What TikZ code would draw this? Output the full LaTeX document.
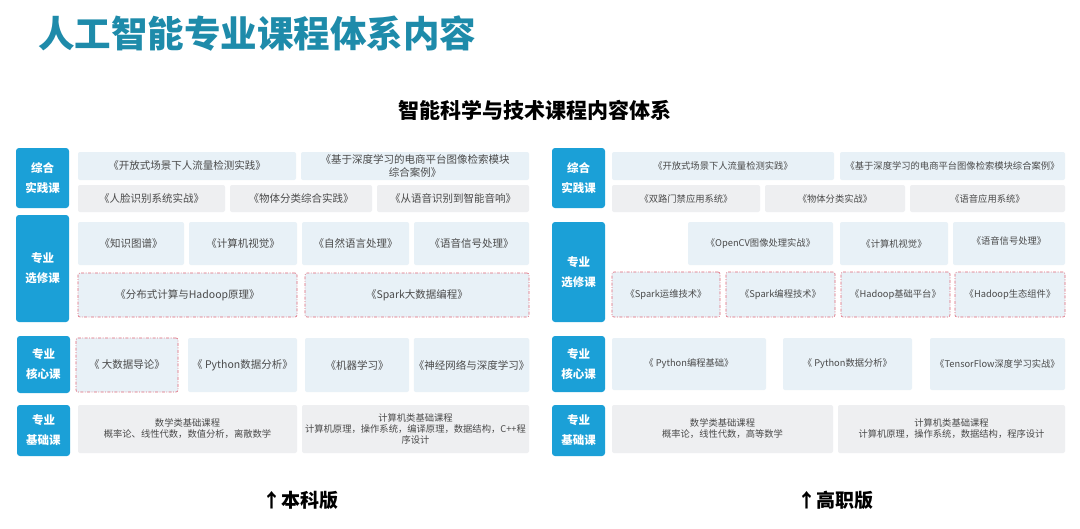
\documentclass[tikz,border=0pt]{standalone}
\usepackage{fontspec}
\setmainfont{Noto Sans CJK SC}
\definecolor{titlec}{HTML}{1E8BAA}
\definecolor{labc}{HTML}{1BA0D7}
\definecolor{lb}{HTML}{E8F1F7}
\definecolor{gr}{HTML}{EEEFF1}
\definecolor{txt}{HTML}{4A4A4A}
\definecolor{dsh}{HTML}{DE6476}
\tikzset{
  base/.style={inner sep=0pt, outer sep=0pt, rounded corners=2pt, align=center, text=txt},
  lab/.style={base, fill=labc, rounded corners=3pt, text=white, font=\bfseries\fontsize{11.5}{20}\selectfont},
  lbox/.style={base, fill=lb, font=\fontsize{10.5}{12.5}\selectfont},
  gbox/.style={base, fill=gr, font=\fontsize{10.5}{12.5}\selectfont},
  dbox/.style={lbox, draw=dsh, line width=0.6pt, dash pattern=on 3pt off 1.5pt on 0.8pt off 1.5pt},
  rsz/.style={font=\fontsize{9.3}{11}\selectfont},
  bsz/.style={font=\fontsize{9.3}{11}\selectfont}
}
\newcommand\mybox[7]{\node[#1, minimum width={(#5-#3)*1pt}, minimum height={(#6-#4)*1pt}] (#2) at ({(#3+#5)/2},{(#4+#6)/2}) {#7};}
\begin{document}
\begin{tikzpicture}[x=1pt,y=-1pt]
\useasboundingbox[fill=white] (0,0) rectangle (1080,528);
% titles
\node[anchor=west, text=titlec, font=\bfseries\fontsize{36.5}{40}\selectfont, inner sep=0pt] (title) at (38,34) {人工智能专业课程体系内容};
\node[font=\bfseries\fontsize{21}{24}\selectfont, inner sep=0pt] (sub) at (535,110) {智能科学与技术课程内容体系};
% ===== left panel =====
\mybox{lab}{L1}{16}{148}{69}{208}{综合\\实践课}
\mybox{lab}{L2}{16}{215}{69}{322}{专业\\选修课}
\mybox{lab}{L3}{17}{336}{70}{393}{专业\\核心课}
\mybox{lab}{L4}{17}{405}{70}{456}{专业\\基础课}
\mybox{lbox}{a1}{78}{152}{296}{180}{《开放式场景下人流量检测实践》}
\mybox{lbox}{a2}{301}{152}{529}{180}{《基于深度学习的电商平台图像检索模块\\综合案例》}
\mybox{gbox}{b1}{78}{185}{225}{212}{《人脸识别系统实战》}
\mybox{gbox}{b2}{230}{185}{372}{212}{《物体分类综合实践》}
\mybox{gbox}{b3}{377}{185}{529}{212}{《从语音识别到智能音响》}
\mybox{lbox}{c1}{78}{222}{184}{265}{《知识图谱》}
\mybox{lbox}{c2}{189}{222}{297}{265}{《计算机视觉》}
\mybox{lbox}{c3}{302}{222}{409}{265}{《自然语言处理》}
\mybox{lbox}{c4}{414}{222}{529}{265}{《语音信号处理》}
\mybox{dbox}{d1}{78}{273}{297}{317}{《分布式计算与Hadoop原理》}
\mybox{dbox}{d2}{305}{273}{529}{317}{《Spark大数据编程》}
\mybox{dbox}{e1}{76}{338}{178}{392}{《 大数据导论》}
\mybox{lbox}{e2}{188}{338}{297}{392}{《 Python数据分析》}
\mybox{lbox}{e3}{305}{338}{409}{392}{《机器学习》}
\mybox{lbox}{e4}{414}{338}{529}{392}{《神经网络与深度学习》}
\mybox{gbox,bsz}{f1}{78}{405}{297}{453}{数学类基础课程\\概率论、线性代数，数值分析，离散数学}
\mybox{gbox,bsz}{f2}{302}{405}{529}{453}{计算机类基础课程\\计算机原理，操作系统，编译原理，数据结构，C++程\\序设计}
% ===== right panel =====
\mybox{lab}{R1}{552}{148}{605}{208}{综合\\实践课}
\mybox{lab}{R2}{552}{222}{605}{322}{专业\\选修课}
\mybox{lab}{R3}{552}{336}{605}{392}{专业\\核心课}
\mybox{lab}{R4}{552}{405}{605}{456}{专业\\基础课}
\mybox{lbox,rsz}{g1}{612}{152}{834}{180}{《开放式场景下人流量检测实践》}
\mybox{lbox,rsz}{g2}{840}{152}{1065}{180}{《基于深度学习的电商平台图像检索模块综合案例》}
\mybox{gbox,rsz}{h1}{612}{185}{760}{212}{《双路门禁应用系统》}
\mybox{gbox,rsz}{h2}{765}{185}{905}{212}{《物体分类实战》}
\mybox{gbox,rsz}{h3}{910}{185}{1065}{212}{《语音应用系统》}
\mybox{lbox,rsz}{i1}{688}{222}{833}{265}{《OpenCV图像处理实战》}
\mybox{lbox,rsz}{i2}{840}{222}{948}{265}{《计算机视觉》}
\mybox{lbox,rsz}{i3}{953}{222}{1065}{265}{\raisebox{6pt}{《语音信号处理》}}
\mybox{dbox,rsz}{j1}{612}{272}{720}{317}{《Spark运维技术》}
\mybox{dbox,rsz}{j2}{726}{272}{835}{317}{《Spark编程技术》}
\mybox{dbox,rsz}{j3}{841}{272}{950}{317}{《Hadoop基础平台》}
\mybox{dbox,rsz}{j4}{955}{272}{1065}{317}{《Hadoop生态组件》}
\mybox{lbox,rsz}{k1}{612}{338}{766}{390}{《 Python编程基础》}
\mybox{lbox,rsz}{k2}{783}{338}{912}{390}{《 Python数据分析》}
\mybox{lbox,rsz}{k3}{930}{338}{1065}{390}{《TensorFlow深度学习实战》}
\mybox{gbox,rsz}{l1}{612}{405}{833}{453}{数学类基础课程\\概率论，线性代数，高等数学}
\mybox{gbox,rsz}{l2}{838}{405}{1065}{453}{计算机类基础课程\\计算机原理，操作系统，数据结构，程序设计}
% bottom captions
\node[anchor=west, font=\bfseries\fontsize{19}{22}\selectfont, inner sep=0pt] (bk) at (262,500) {↑本科版};
\node[anchor=west, font=\bfseries\fontsize{19}{22}\selectfont, inner sep=0pt] (gz) at (797,500) {↑高职版};
\end{tikzpicture}
\end{document}
